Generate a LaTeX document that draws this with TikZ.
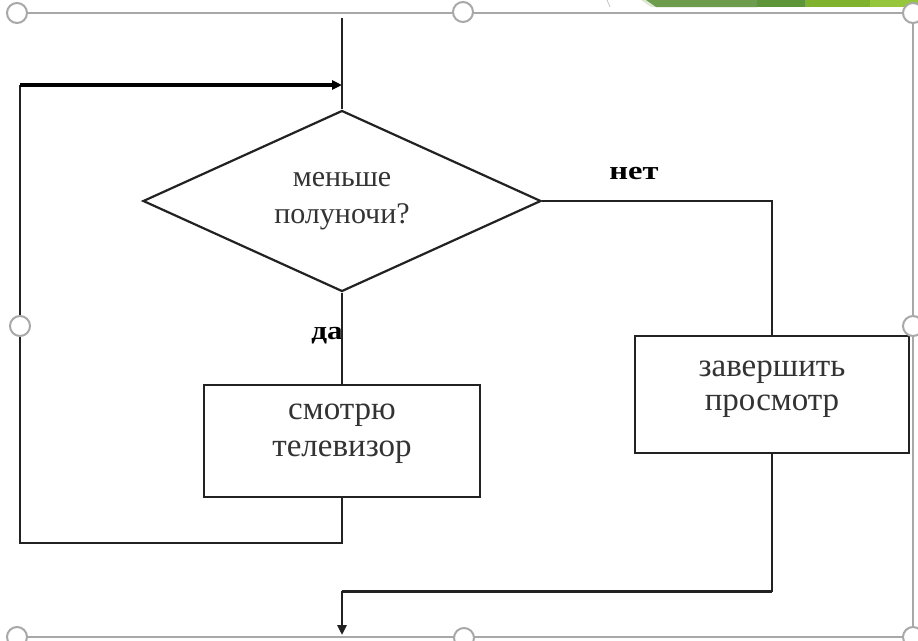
\documentclass[tikz,border=0pt]{standalone}
\usepackage{fontspec}
\setmainfont{Liberation Serif}
\usetikzlibrary{shapes.geometric,arrows.meta}
\definecolor{ink}{HTML}{222222}
\definecolor{txt}{HTML}{333333}
\definecolor{framegray}{HTML}{A8A8A8}
\definecolor{gA}{HTML}{6C9C4C}
\definecolor{gB}{HTML}{5F9539}
\definecolor{gC}{HTML}{80B22E}
\definecolor{gD}{HTML}{96C63C}
\definecolor{gPale}{HTML}{DCEAD0}
\tikzset{
  flow/.style={draw=ink, line width=2.2pt},
  heavy/.style={draw=black, line width=3.5pt},
  tip/.style={-{Triangle[length=10pt,width=9pt]}},
  boxnode/.style={draw=ink, line width=2.2pt, rectangle, inner sep=0pt},
  boxtext/.style={inner sep=0pt, align=center, text=txt},
  decision/.style={draw=ink, line width=2.2pt, diamond, aspect=2.2, inner sep=0pt,
    minimum width=398pt, minimum height=181pt, align=center, text=txt,
    font=\fontsize{30}{37}\selectfont},
  branchlabel/.style={font=\bfseries\fontsize{26}{26}\selectfont, text=black, inner sep=0pt},
  handle/.style={draw=framegray, fill=white, line width=2pt},
  frameline/.style={draw=framegray, line width=2pt}
}
\begin{document}
\begin{tikzpicture}[x=1pt, y=-1pt]
\useasboundingbox (0,0) rectangle (918,640);
\clip (0,0) rectangle (918,640);
\fill[white] (0,0) rectangle (918,640);

% green band in the upper right corner
\fill[gPale] (641,0) -- (646,0) -- (656,7) -- (651,7) -- cycle;
\fill[gA] (646,0) -- (757,0) -- (757,7) -- (656,7) -- cycle;
\fill[gB] (757,0) rectangle (805,7);
\fill[gC] (805,0) rectangle (870,7);
\fill[gD] (870,0) rectangle (918,7);
\draw[framegray!70, line width=0.8pt] (607,0) -- (610,7);

% selection frame
\draw[frameline] (17,13) -- (913,13) -- (913,637) -- (17,637);

% flowchart nodes
\node[decision] (cond) at (342,201) {меньше\\полуночи?};
\node[boxnode, minimum width=276pt, minimum height=112pt] (tv) at (342,441) {};
\node[boxtext, font=\fontsize{33}{37}\selectfont] (tvtext) at (342,434) {смотрю\\телевизор};
\node[boxnode, minimum width=274pt, minimum height=117pt] (stop) at (772,394.5) {};
\node[boxtext, font=\fontsize{33}{34}\selectfont] (stoptext) at (772,389) {завершить\\просмотр};

\node[branchlabel, xscale=1.25] (no) at (634,174) {нет};
\node[branchlabel, xscale=1.2] (yes) at (327,336) {да};

\coordinate (entry) at (342,18);
\coordinate (merge) at (342,85);
\coordinate (loopBL) at (20,543);
\coordinate (loopTL) at (20,85);
\coordinate (exitJoin) at (342,591);
\coordinate (exitEnd) at (342,635);

% connectors
\draw[flow] (entry) -- (cond.north);
\draw[flow] (cond.south) -- (tv.north);
\draw[flow] (tv.south) |- (loopBL) -- (loopTL);
\draw[heavy, tip] (loopTL) -- (merge);
\draw[flow] (cond.east) -| (stop.north);
\draw[flow] (stop.south) |- (exitJoin);
\draw[draw=ink, line width=3pt] (stop.south |- exitJoin) -- (exitJoin);
\draw[draw=ink, line width=2.5pt, tip] (exitJoin) -- (exitEnd);

% frame handles
\foreach \hx/\hy in {17/13, 463/12, 913/13, 20/326, 913/326, 17/637, 464/638, 913/637}
  \draw[handle] (\hx,\hy) circle (10pt);
\end{tikzpicture}
\end{document}
